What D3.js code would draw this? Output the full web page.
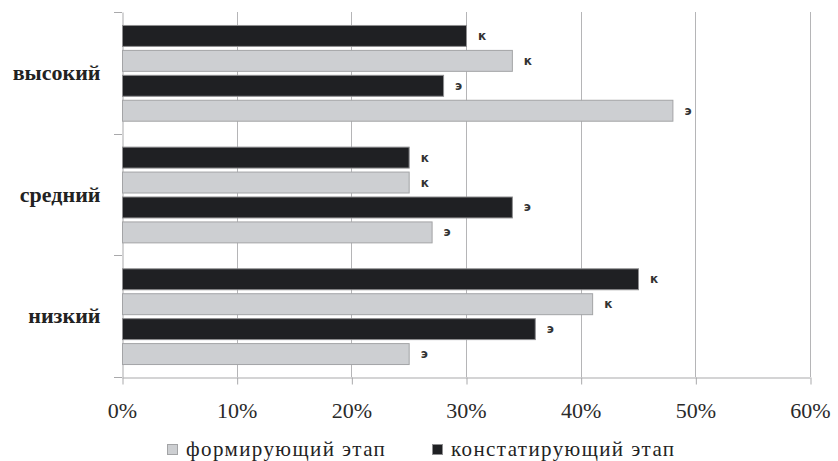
<!DOCTYPE html>
<html>
<head>
<meta charset="utf-8">
<script src="https://cdn.jsdelivr.net/npm/d3@7"></script>
<style>
  html, body { margin: 0; padding: 0; background: #fff; }
  svg { display: block; }
  .serif { font-family: "Times New Roman", Times, "Liberation Serif", Tinos, "Noto Serif", "DejaVu Serif", FreeSerif, serif; }
  .tag { font-family: "DejaVu Sans", sans-serif; font-weight: bold; }
</style>
</head>
<body>
<svg id="chart" width="838" height="461"></svg>
<script>
// Уровни (категории) сверху вниз
const levels = ["высокий", "средний", "низкий"];

// Ряды внутри каждой категории, сверху вниз
const seriesKeys = ["konst_k", "form_k", "konst_e", "form_e"];
const seriesStage = ["konst", "form", "konst", "form"];
const seriesTag = ["к", "к", "э", "э"];

// Значения, % (по уровням: высокий, средний, низкий)
const konst_k = [30, 25, 45];
const form_k  = [34, 25, 41];
const konst_e = [28, 34, 36];
const form_e  = [48, 27, 25];
const seriesValues = [konst_k, form_k, konst_e, form_e];

// Подписи оси X
const xTicks = [0, 10, 20, 30, 40, 50, 60];

// Легенда
const legendLabels = ["формирующий этап", "констатирующий этап"];
const legendStages = ["form", "konst"];

const fill = { konst: "#1f2023", form: "#cdcfd2" };
const stroke = { konst: "#8e8e90", form: "#a3a4a6" };

const svg = d3.select("#chart");
const margin = { left: 122, right: 28, top: 12, bottom: 84 };
const W = 838, H = 461;

const x = d3.scaleLinear().domain([0, 60]).range([margin.left, W - margin.right]);
const y = d3.scaleBand().domain(levels).range([margin.top, H - margin.bottom]);
const yInner = d3.scaleBand().domain(seriesKeys).range([0, y.bandwidth()])
  .paddingInner(0.16).paddingOuter(0.52);

// Вертикальные линии сетки
svg.append("g")
  .selectAll("line")
  .data(xTicks.slice(1))
  .join("line")
  .attr("x1", d => Math.round(x(d)) + 0.5)
  .attr("x2", d => Math.round(x(d)) + 0.5)
  .attr("y1", margin.top)
  .attr("y2", H - margin.bottom)
  .attr("stroke", "#b5b5b7")
  .attr("stroke-width", 1);

// Ось X
const xAxis = svg.append("g")
  .attr("transform", `translate(0,${Math.round(H - margin.bottom) + 0.5})`)
  .call(d3.axisBottom(x).tickValues(xTicks).tickFormat(d => d + "%").tickSize(7).tickPadding(18).tickSizeOuter(0));
xAxis.attr("font-family", null).attr("font-size", null);
xAxis.select(".domain").attr("stroke", "#a9a9ab");
xAxis.selectAll(".tick line").attr("stroke", "#a9a9ab")
  .attr("transform", "translate(0.5,0)");
xAxis.selectAll(".tick text")
  .attr("class", "serif")
  .attr("font-size", 22)
  .attr("fill", "#2a2a2a");

// Ось Y
const yAxis = svg.append("g")
  .attr("transform", `translate(${margin.left + 0.5},0)`)
  .call(d3.axisLeft(y).tickSize(0).tickPadding(22));
yAxis.attr("font-family", null).attr("font-size", null);
yAxis.select(".domain").attr("stroke", "#a9a9ab");
yAxis.selectAll(".tick text")
  .attr("class", "serif")
  .attr("font-size", 22)
  .attr("font-weight", "bold")
  .attr("fill", "#222");
// Деления между категориями
svg.append("g")
  .selectAll("line")
  .data([...levels.map(l => y(l)), y(levels[levels.length - 1]) + y.bandwidth()])
  .join("line")
  .attr("x1", margin.left - 8)
  .attr("x2", margin.left)
  .attr("y1", d => Math.round(d) + 0.5)
  .attr("y2", d => Math.round(d) + 0.5)
  .attr("stroke", "#a9a9ab");

// Столбцы
const rows = [];
levels.forEach((lvl, i) => {
  seriesKeys.forEach((k, j) => {
    rows.push({ level: lvl, key: k, stage: seriesStage[j], tag: seriesTag[j], value: seriesValues[j][i] });
  });
});

const bars = svg.append("g");
bars.selectAll("rect")
  .data(rows)
  .join("rect")
  .attr("x", x(0) + 0.5)
  .attr("y", d => y(d.level) + yInner(d.key) + 0.5)
  .attr("width", d => x(d.value) - x(0))
  .attr("height", yInner.bandwidth())
  .attr("fill", d => fill[d.stage])
  .attr("stroke", d => stroke[d.stage])
  .attr("stroke-width", 1);

// Подписи групп (к / э)
bars.selectAll("text")
  .data(rows)
  .join("text")
  .attr("class", "tag")
  .attr("x", d => x(d.value) + 12)
  .attr("y", d => y(d.level) + yInner(d.key) + yInner.bandwidth() / 2 + 1)
  .attr("dominant-baseline", "middle")
  .attr("font-size", 12)
  .attr("fill", "#333")
  .text(d => d.tag);

// Легенда
const legend = svg.append("g").attr("transform", "translate(167,444)");
const legendX = [0, 265];
legendLabels.forEach((lab, i) => {
  const g = legend.append("g").attr("transform", `translate(${legendX[i]},0)`);
  g.append("rect")
    .attr("x", 0.5).attr("y", 0.5)
    .attr("width", 10).attr("height", 10)
    .attr("fill", fill[legendStages[i]])
    .attr("stroke", stroke[legendStages[i]]);
  g.append("text")
    .attr("class", "serif")
    .attr("x", 19)
    .attr("y", 12)
    .attr("font-size", 21)
    .attr("letter-spacing", 1.4)
    .attr("fill", "#222")
    .text(lab);
});
</script>
</body>
</html>
